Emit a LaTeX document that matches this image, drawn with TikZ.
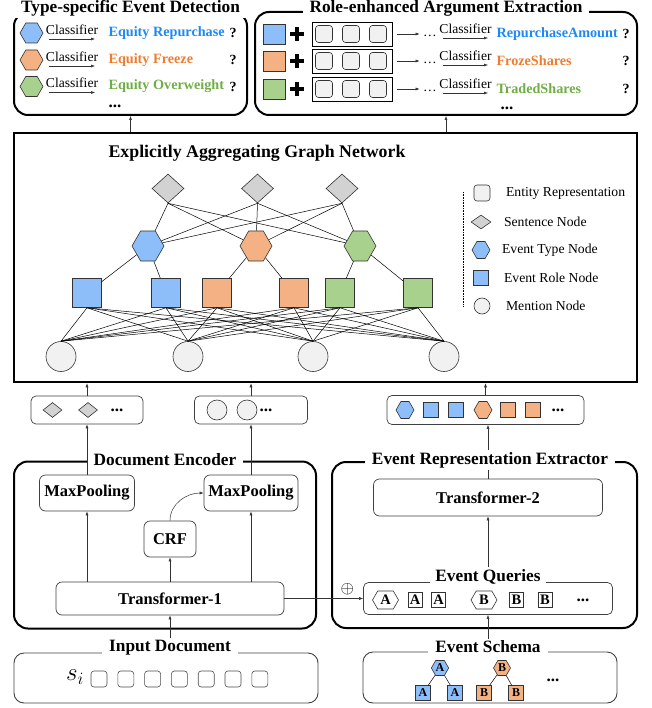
\documentclass[tikz,border=0pt]{standalone}
\usepackage{fontspec}
\setmainfont{Liberation Serif}
\usetikzlibrary{arrows.meta,positioning,shapes.geometric,shapes.symbols}

\definecolor{typeblue}{RGB}{142,190,250}
\definecolor{typeorange}{RGB}{244,177,131}
\definecolor{typegreen}{RGB}{169,209,142}
\definecolor{sentgray}{RGB}{210,210,210}
\definecolor{mentgray}{RGB}{241,241,241}
\definecolor{txtblue}{RGB}{30,136,245}
\definecolor{txtorange}{RGB}{237,125,49}
\definecolor{txtgreen}{RGB}{112,173,71}

\tikzset{
  bigbox/.style={draw, line width=2pt, rounded corners=14pt, inner sep=0pt},
  boxtitle/.style={fill=white, inner xsep=7pt, inner ysep=2pt, font=\fontsize{17.3}{17.3}\selectfont\bfseries},
  block/.style={draw=black!75, line width=0.7pt, rounded corners=6pt, fill=white, font=\fontsize{16.5}{16.5}\selectfont\bfseries},
  tray/.style={draw=black!75, line width=0.7pt, rounded corners=5pt, inner sep=0pt},
  sentnode/.style={diamond, draw=black!80, line width=0.6pt, fill=sentgray, inner sep=0pt},
  typenode/.style={signal, signal to=east and west, signal pointer angle=120, draw=black!80, line width=0.6pt, inner sep=0pt},
  rolenode/.style={rectangle, draw=black!80, line width=0.6pt, inner sep=0pt},
  mentnode/.style={circle, draw=black!80, line width=0.6pt, fill=mentgray, inner sep=0pt},
  entnode/.style={rectangle, rounded corners=3pt, draw=black!80, line width=0.6pt, fill=mentgray, inner sep=0pt},
  gedge/.style={line width=0.5pt},
  arr/.style={draw=black!80, line width=0.5pt, -{Latex[length=4pt,width=3pt]}},
  heavyplus/.style={line width=4.5pt},
  clsf/.style={font=\fontsize{13.6}{13.6}\selectfont},
  evlbl/.style={font=\fontsize{14.2}{14.2}\selectfont\bfseries, anchor=west},
  qmark/.style={font=\fontsize{14}{14}\selectfont\bfseries},
  bdots/.style={font=\fontsize{17}{17}\selectfont\bfseries, anchor=base, inner sep=1pt},
  legtxt/.style={font=\fontsize{13.7}{13.7}\selectfont, anchor=west},
  letter/.style={font=\fontsize{14.5}{14.5}\selectfont\bfseries},
  smallletter/.style={font=\fontsize{12}{12}\selectfont\bfseries},
}

\newcommand{\plusmark}[1]{\draw[heavyplus] ([xshift=-7pt]#1) -- ([xshift=7pt]#1) ([yshift=-7pt]#1) -- ([yshift=7pt]#1);}

\begin{document}
\begin{tikzpicture}[x=1pt,y=-1pt]
\useasboundingbox (0,0) rectangle (651,708);

% type-specific event detection
\node[bigbox, minimum width=233pt, minimum height=103pt] (ted) at (130.5,63.5) {};
\node[boxtitle] (tedt) at ([yshift=2.5pt]ted.north) {Type-specific Event Detection};
\foreach \i/\yy/\fc/\tc/\txt in {1/33/typeblue/txtblue/Equity Repurchase, 2/60/typeorange/txtorange/Equity Freeze, 3/86.5/typegreen/txtgreen/Equity Overweight}{
  \node[typenode, fill=\fc, minimum width=23pt, minimum height=20pt] (th\i) at (31.5,\yy) {};
  \coordinate (ca\i) at (49,\yy+6);
  \coordinate (cb\i) at (95,\yy+6);
  \draw[arr] (ca\i) -- node[clsf, above=1pt] {Classifier} (cb\i);
  \node[evlbl, text=\tc] (tl\i) at (105,\yy) {\txt};
  \node[qmark] (tq\i) at (233,\yy) {?};
}
\node[bdots] at (115,108) {...};

% role-enhanced argument extraction
\node[bigbox, minimum width=382pt, minimum height=103pt] (rae) at (446,63.5) {};
\node[boxtitle] (raet) at ([yshift=2.5pt]rae.north) {Role-enhanced Argument Extraction};
\foreach \i/\yy/\fc/\tc/\txt in {1/34/typeblue/txtblue/RepurchaseAmount, 2/61/typeorange/txtorange/FrozeShares, 3/89/typegreen/txtgreen/TradedShares}{
  \node[rolenode, fill=\fc, minimum width=22pt, minimum height=20pt] (rs\i) at (274,\yy) {};
  \coordinate (pl\i) at (297,\yy);
  \plusmark{pl\i}
  \node[draw, line width=0.8pt, minimum width=80pt, minimum height=24pt, inner sep=0pt] (fr\i) at (352,\yy) {};
  \foreach \xx/\k in {324/a,351/b,378/c}
    \node[entnode, minimum size=17pt] (fr\i\k) at (\xx,\yy) {};
  \node[clsf, anchor=base] (fd\i) at (430,\yy+3) {\dots};
  \draw[arr, shorten <=5pt] (fr\i.east) -- (fr\i.east -| fd\i.west);
  \coordinate (ra\i) at (443,\yy+4);
  \coordinate (rb\i) at (488,\yy+4);
  \draw[arr] (ra\i) -- node[clsf, above=1pt] {Classifier} (rb\i);
  \node[evlbl, text=\tc] (rl\i) at (493,\yy) {\txt};
  \node[qmark] (rq\i) at (626,\yy) {?};
}
\node[bdots] at (507,110) {...};

% explicitly aggregating graph network
\node[draw, line width=2.5pt, minimum width=623pt, minimum height=249pt] (gan) at (325.5,257.5) {};
\node[font=\fontsize{17.8}{17.8}\selectfont\bfseries] (gant) at (257,153) {Explicitly Aggregating Graph Network};
\foreach \i/\xx in {1/168,2/257.5,3/342}
  \node[sentnode, minimum width=32pt, minimum height=29pt] (s\i) at (\xx,188.5) {};
\node[typenode, fill=typeblue, minimum width=32pt, minimum height=30pt] (t1) at (148,246) {};
\node[typenode, fill=typeorange, minimum width=32pt, minimum height=30pt] (t2) at (256,246) {};
\node[typenode, fill=typegreen, minimum width=32pt, minimum height=30pt] (t3) at (360,246) {};
\foreach \i/\xx/\fc in {1/87/typeblue,2/166/typeblue,3/217/typeorange,4/294/typeorange,5/340/typegreen,6/418/typegreen}
  \node[rolenode, fill=\fc, minimum size=29pt] (r\i) at (\xx,293) {};
\foreach \i/\xx in {1/61,2/188,3/313,4/444}
  \node[mentnode, minimum size=30pt] (m\i) at (\xx,356.5) {};
\foreach \a in {1,2,3}
  \foreach \b in {1,2,3}
    \draw[gedge] (s\a.south) -- (t\b);
\draw[gedge] (t1) -- (r1) (t1) -- (r2) (t2) -- (r3) (t2) -- (r4) (t3) -- (r5) (t3) -- (r6);
\foreach \a in {1,...,6}
  \foreach \b in {1,...,4}
    \draw[gedge] (r\a.south) -- (m\b.north);

% legend
\draw[densely dotted, line width=0.6pt] (463,192) -- (463,306);
\node[entnode, minimum size=16pt] (le1) at (482,193) {};
\node[sentnode, minimum width=20pt, minimum height=14pt] (le2) at (481,222) {};
\node[typenode, fill=typeblue, minimum width=18pt, minimum height=17pt] (le3) at (481,250) {};
\node[rolenode, fill=typeblue, minimum size=15pt] (le4) at (481,278) {};
\node[mentnode, minimum size=16pt] (le5) at (482,306) {};
\node[legtxt] at (502.5,193) {Entity Representation};
\node[legtxt] at (500.5,222) {Sentence Node};
\node[legtxt] at (498.5,250) {Event Type Node};
\node[legtxt] at (500.5,278) {Event Role Node};
\node[legtxt] at (502.5,306) {Mention Node};

% node representations
\node[tray, minimum width=112pt, minimum height=28pt] (sbox) at (87,410) {};
\node[sentnode, minimum width=19pt, minimum height=15pt] (sb1) at (52.5,410) {};
\node[sentnode, minimum width=19pt, minimum height=15pt] (sb2) at (88,410) {};
\node[bdots] at (117,411.8) {...};
\node[tray, minimum width=113pt, minimum height=28pt] (mbox) at (251,410) {};
\node[mentnode, minimum size=20pt] (mb1) at (217,410) {};
\node[mentnode, minimum size=20pt] (mb2) at (247,410) {};
\node[bdots] at (266,411.8) {...};
\node[tray, minimum width=197pt, minimum height=29pt] (ebox) at (485.5,410) {};
\node[typenode, fill=typeblue, minimum width=18pt, minimum height=17pt] (eb1) at (405,410) {};
\node[rolenode, fill=typeblue, minimum size=15pt] (eb2) at (431,410) {};
\node[rolenode, fill=typeblue, minimum size=15pt] (eb3) at (456,410) {};
\node[typenode, fill=typeorange, minimum width=18pt, minimum height=17pt] (eb4) at (483,410) {};
\node[rolenode, fill=typeorange, minimum size=15pt] (eb5) at (508,410) {};
\node[rolenode, fill=typeorange, minimum size=15pt] (eb6) at (533,410) {};
\node[bdots] at (558,411.8) {...};
\draw[arr] (sbox.north) -- (sbox.north |- gan.south);
\draw[arr] (mbox.north) -- (mbox.north |- gan.south);
\draw[arr] (ebox.north) -- (ebox.north |- gan.south);
\draw[arr] (gan.north -| ted.south) -- (ted.south);
\draw[arr] (gan.north -| rae.south) -- (rae.south);

% document encoder
\node[bigbox, minimum width=302pt, minimum height=167pt] (denc) at (165,545) {};
\node[boxtitle] (denct) at ([yshift=1pt]denc.north) {Document Encoder};
\node[block, minimum width=95pt, minimum height=36pt] (mp1) at (87,493) {MaxPooling};
\node[block, minimum width=94pt, minimum height=36pt] (mp2) at (251,493) {MaxPooling};
\node[block, minimum width=52pt, minimum height=36pt] (crf) at (170,539) {CRF};
\node[block, minimum width=228pt, minimum height=33pt] (tr1) at (170,598.5) {Transformer-1};
\draw[arr] (tr1.north -| mp1) -- (mp1.south);
\draw[arr] (tr1.north) -- (crf.south);
\draw[arr] (tr1.north -| mp2) -- (mp2.south);
\draw[arr] (crf.north) to[out=90, in=180] (mp2.west);
\draw[arr] (mp1.north) -- (sbox.south);
\draw[arr] (mp2.north) -- (mbox.south);

% event representation extractor
\node[bigbox, minimum width=305pt, minimum height=166pt] (ere) at (484.5,545) {};
\node[block, minimum width=229pt, minimum height=37pt] (tr2) at (488,497.5) {Transformer-2};
\node[tray, minimum width=249pt, minimum height=32pt] (eq) at (488,598.5) {};
\node[boxtitle, inner xsep=5pt] (eqt) at ([yshift=5.5pt]eq.north) {Event Queries};
\node[typenode, fill=white, minimum width=26pt, minimum height=18pt, letter] (q1) at (385.5,600) {A};
\node[rolenode, minimum width=14pt, minimum height=15pt, letter] (q2) at (415,600) {A};
\node[rolenode, minimum width=14pt, minimum height=15pt, letter] (q3) at (438.5,600) {A};
\node[typenode, fill=white, minimum width=26pt, minimum height=18pt, letter] (q4) at (484,600) {B};
\node[rolenode, minimum width=14pt, minimum height=15pt, letter] (q5) at (516.5,600) {B};
\node[rolenode, minimum width=14pt, minimum height=15pt, letter] (q6) at (545,600) {B};
\node[bdots] at (583,601.8) {...};
\draw[arr] (tr1) -- node[pos=0.8, above=0pt, font=\fontsize{19}{19}\selectfont] {$\oplus$} (eq);
\draw[arr] (eqt.north) -- (tr2.south);
\draw[arr] (tr2.north) -- (tr2.north |- ebox.south);
\node[boxtitle] (eret) at (490,460) {Event Representation Extractor};

% input document
\node[tray, rounded corners=10pt, line width=0.9pt, minimum width=304pt, minimum height=50pt] (indoc) at (166,678) {};
\node[boxtitle] (indoct) at (170,648) {Input Document};
\node[font=\fontsize{26}{26}\selectfont] (si) at (75,677) {$s_i$};
\foreach \k in {0,...,6}
  \node[entnode, fill=white, draw=black!70, minimum size=16pt] (w\k) at (99+26.8*\k,679) {};
\draw[arr] (indoct.north) -- (tr1.south);

% event schema
\node[tray, rounded corners=10pt, line width=0.9pt, minimum width=254pt, minimum height=51pt] (esch) at (490,677.5) {};
\node[boxtitle] (escht) at (488,647) {Event Schema};
\node[typenode, fill=typeblue, minimum width=17pt, minimum height=15pt, smallletter] (ha) at (440,668) {A};
\node[rolenode, fill=typeblue, minimum size=15pt, smallletter] (ha1) at (423,693) {A};
\node[rolenode, fill=typeblue, minimum size=15pt, smallletter] (ha2) at (455,693) {A};
\node[typenode, fill=typeorange, minimum width=17pt, minimum height=15pt, smallletter] (hb) at (502,668) {B};
\node[rolenode, fill=typeorange, minimum size=15pt, smallletter] (hb1) at (484,693) {B};
\node[rolenode, fill=typeorange, minimum size=15pt, smallletter] (hb2) at (516,693) {B};
\draw[gedge] (ha) -- (ha1) (ha) -- (ha2) (hb) -- (hb1) (hb) -- (hb2);
\node[bdots] at (553,681.8) {...};
\draw[arr] (escht.north) -- (escht.north |- eq.south);
\end{tikzpicture}
\end{document}
